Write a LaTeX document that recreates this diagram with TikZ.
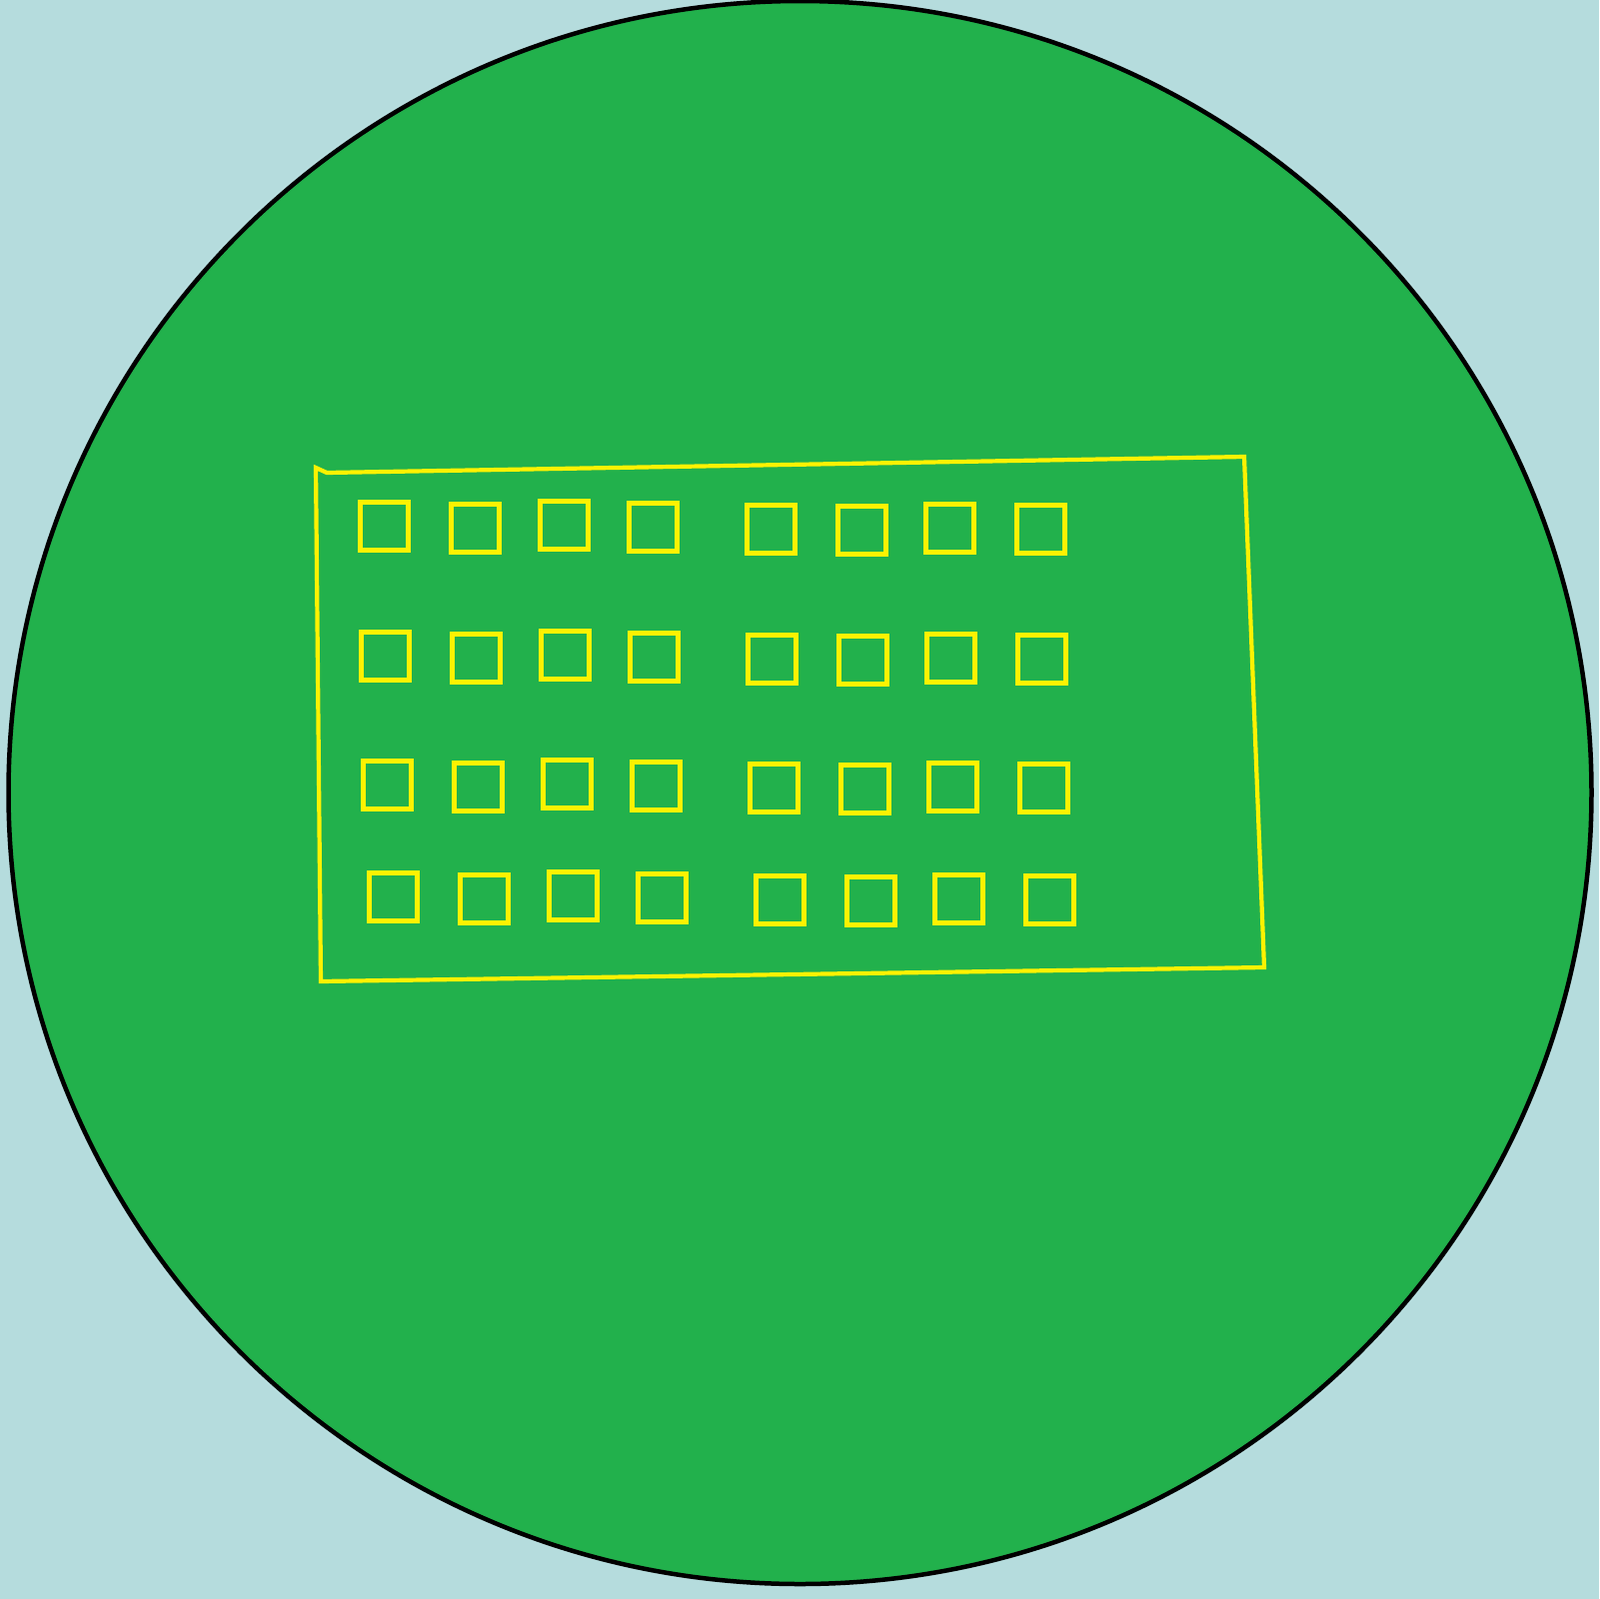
\documentclass[tikz,border=0pt]{standalone}
\usepackage{tikz}
\definecolor{poolbg}{RGB}{181, 220, 221}
\definecolor{fieldgreen}{RGB}{34, 177, 76}
\definecolor{markyellow}{RGB}{255, 242, 0}

\begin{document}
\begin{tikzpicture}[x=0.1mm, y=-0.1mm]
    \def\s{48}

    \fill[poolbg] (0,0) rectangle (1600,1600);
    \useasboundingbox (0,0) rectangle (1600,1600);

    \fill[fieldgreen] (800.5,793) circle (792);
    \draw[black, line width=0.45mm] (800.5,793) circle (792);

    \draw[markyellow, line width=0.42mm]
        (316,468) -- (327,473) -- (1245,457) -- (1265,968) -- (321,982) -- cycle;

    \foreach \rx/\ry in {360/502, 361/632, 363/761, 369/873} {
      \foreach \cx/\cy in {0/0, 91/2, 180/-1, 269/1, 387/3, 478/4, 566/2, 657/3} {
        \draw[markyellow, line width=0.5mm]
            (\rx+\cx,\ry+\cy) rectangle ++(\s,\s);
      }
    }

\end{tikzpicture}
\end{document}
